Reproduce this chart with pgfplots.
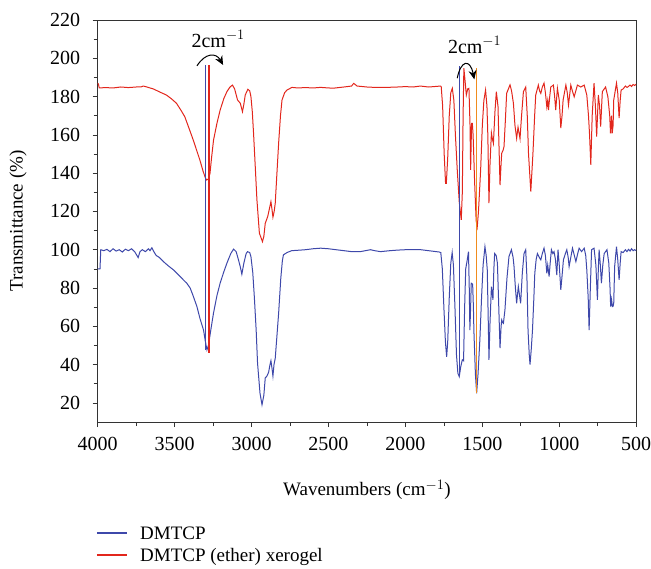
\documentclass[border=0pt]{standalone}
\usepackage{fontspec}
\setmainfont{Liberation Serif}
\usepackage{pgfplots}
\pgfplotsset{compat=1.18}
\usetikzlibrary{arrows.meta}
\definecolor{cblue}{RGB}{62,72,170}
\definecolor{cred}{RGB}{226,38,28}
\definecolor{corange}{RGB}{240,140,30}
\begin{document}
\begin{tikzpicture}
\begin{axis}[
  scale only axis,
  width=538.5pt, height=402pt,
  x dir=reverse,
  xmin=500, xmax=4000, ymin=10, ymax=220,
  xtick={500,1000,...,4000},
  ytick={20,40,...,220},
  minor x tick num=1, minor y tick num=1,
  xtick pos=bottom, ytick pos=left,
  tick align=outside,
  major tick length=5pt, minor tick length=4pt,
  axis line style={black!80, line width=0.8pt},
  every tick/.style={black!80, line width=0.7pt},
  /pgf/number format/assume math mode=true,
  /pgf/number format/1000 sep={},
  tick label style={font=\fontsize{20}{23}\selectfont},
  yticklabel style={xshift=-9pt},
  xticklabel style={yshift=-7pt},
  label style={font=\fontsize{19}{22}\selectfont},
  xlabel={Wavenumbers (cm$^{-1}$)},
  ylabel={Transmittance (\%)},
  xlabel style={at={(axis description cs:0.5,-0.169)}, anchor=center},
  ylabel style={at={(axis description cs:-0.148,0.5)}, anchor=center},
]
\addplot[cblue, line width=1pt] coordinates {
(4000,90) (3990,90) (3985,90) (3980,100) (3960,99.5) (3940,100.2) (3920,99) (3900,100.5) (3880,99.3) (3860,100) (3840,98.8) (3820,100.3) (3800,99.5) (3780,100.5) (3760,99) (3745,97) (3737,95.9) (3725,99) (3710,100) (3690,99) (3670,100.5) (3660,99.5) (3648,101) (3635,99) (3620,97) (3600,96) (3573,93.8) (3540,91.5) (3508,89.5) (3470,86.5) (3440,84) (3421,82.5) (3399,80) (3380,76) (3355,70.3) (3335,64) (3312,58) (3300,52) (3290,47.7) (3280,50) (3265,58) (3247,67) (3225,76) (3204,82.6) (3180,88.5) (3160,93) (3135,98) (3117,100.3) (3100,99) (3085,94.7) (3073,91) (3063,87.2) (3050,93) (3035,98) (3026,99) (3012,98.5) (3004,96.4) (2992,88) (2982,75.5) (2970,58) (2961,40.7) (2945,25) (2932,19) (2920,24) (2911,33) (2900,34) (2889,36) (2880,40) (2874,42) (2867,38) (2861,34) (2854,40) (2846,43.3) (2835,55) (2824,66.8) (2810,85) (2800,94) (2793,97.3) (2770,98.5) (2739,99.5) (2700,99.7) (2650,100) (2600,100.5) (2551,100.8) (2500,100.5) (2450,100) (2400,99.5) (2350,99) (2292,99) (2260,99.5) (2227,100) (2200,99.5) (2162,99) (2100,99.5) (2050,99.8) (2000,100) (1950,100) (1900,100) (1850,99.5) (1800,99) (1780,98.8) (1770,98.5) (1760,90) (1750,70) (1740,52) (1732,44) (1725,52) (1715,75) (1705,93) (1696,98.5) (1688,92) (1678,70) (1668,45) (1659,35.5) (1650,33.7) (1640,39) (1630,42.5) (1622,42) (1615,70) (1608,90) (1598,94.7) (1590,99) (1585,80) (1581,58) (1576,70) (1572,82.5) (1563,82) (1558,70) (1555,58) (1545,35) (1537,25) (1528,35) (1516,53) (1505,75) (1495,92) (1483,101.6) (1475,97) (1468,89.5) (1462,65) (1457,42.5) (1450,62) (1441,80.7) (1436,78) (1431,73.8) (1425,90) (1420,98) (1410,97) (1402,93) (1395,75) (1385,48.6) (1378,60) (1374,63.3) (1368,62) (1363,61.6) (1353,68.6) (1340,85) (1327,96.4) (1311,100) (1300,96) (1294,91.2) (1285,80) (1277,72) (1271,77) (1266,80.7) (1258,76) (1251,72) (1240,88) (1229,98) (1218,100) (1210,85) (1203,58) (1195,45) (1190,40) (1182,48) (1174,58) (1165,75) (1159,87.7) (1150,95) (1142,98) (1130,96) (1120,94.7) (1110,98) (1099,100.8) (1090,97) (1081,87.7) (1075,92) (1066,86) (1058,94) (1051,100) (1042,98) (1034,99) (1025,95) (1016,86.8) (1008,100) (1000,92) (990,79) (980,88) (973,94.7) (960,98) (951,100) (942,96) (936,91.2) (925,96) (914,100.8) (902,97) (892,93.8) (880,98) (871,100.8) (855,99) (838,100.8) (828,97) (821,89.5) (812,75) (806,58) (798,80) (790,100) (774,100.8) (762,92) (752,73.8) (746,90) (741,100) (733,92) (726,82.5) (717,92) (708,98) (690,100) (678,93) (670,80) (666,70.3) (660,74) (655,70.3) (650,70.5) (646,72) (640,91.2) (628,101.6) (620,95) (611,84.2) (604,93) (598,99) (585,98.5) (570,100) (560,99) (550,100.2) (540,99.3) (530,100.5) (520,99.5) (510,100) (500,99.5)
};
\addplot[cred, line width=1pt] coordinates {
(4000,187) (3995,186.5) (3990,184.5) (3950,184.7) (3900,184.5) (3850,185) (3800,184.7) (3750,185) (3720,185) (3703,185.5) (3680,185) (3660,184.5) (3638,184) (3600,182.5) (3553,180.8) (3520,178.8) (3488,176.5) (3460,173) (3434,169.5) (3400,162) (3379,157.3) (3355,151.5) (3336,146.9) (3315,141) (3300,137.5) (3292,136.4) (3280,137) (3270,139.9) (3260,148) (3247,157.3) (3225,166) (3204,173) (3180,179) (3160,182.6) (3140,185) (3124,186) (3110,184) (3091,178.2) (3073,176.5) (3059,172.1) (3050,176) (3041,180.8) (3024,183.8) (3012,183) (3004,180) (2995,172) (2987,160.8) (2975,142) (2965,126) (2949,108.6) (2929,104.2) (2920,107) (2911,113.8) (2895,117.3) (2885,121) (2874,125.1) (2867,121) (2861,117) (2853,120) (2846,124.3) (2835,140) (2824,155.6) (2812,170) (2802,178.2) (2785,182) (2770,183.4) (2737,184.8) (2700,184.5) (2650,184.7) (2600,184.5) (2551,184.8) (2500,184.5) (2466,184.4) (2400,185) (2350,185.5) (2336,186.9) (2314,185.5) (2250,185) (2200,184.8) (2120,184.8) (2050,185) (2000,185.2) (1950,185) (1902,185.5) (1850,185) (1800,185.3) (1771,185.5) (1767,185) (1758,175) (1748,150) (1739,134.7) (1734,134.7) (1725,148) (1715,170) (1705,182) (1695,184.3) (1685,178) (1675,160) (1663,141.7) (1650,125) (1637,115.6) (1630,130) (1625,170) (1620,194.8) (1612,188) (1604,180.8) (1595,184) (1587,184.3) (1580,165) (1576,141.7) (1570,166) (1565,166) (1560,160) (1550,135) (1540,115) (1533,112) (1525,120) (1511,141.7) (1500,165) (1490,178) (1479,183.4) (1470,175) (1464,159.1) (1457,124.3) (1450,145) (1441,161) (1435,158) (1428,155.6) (1418,172) (1409,182.6) (1398,174.7) (1392,155) (1385,133.8) (1378,145) (1374,150.4) (1365,152) (1359,153.9) (1350,168) (1342,181.7) (1320,186.1) (1310,183) (1298,176.5) (1288,165) (1277,158.2) (1268,164) (1255,158) (1245,170) (1233,182.6) (1218,185) (1208,170) (1200,150.4) (1185,130.3) (1171,150.4) (1160,170) (1153,180.8) (1136,186) (1128,183) (1120,181.7) (1110,185) (1099,187) (1090,182) (1081,174.7) (1075,178) (1070,173) (1062,180) (1055,185) (1038,186) (1030,180) (1023,173) (1012,184.3) (1000,178) (990,163.5) (982,170) (975,178.2) (957,186) (948,182) (940,175.6) (925,186) (915,183) (903,179.9) (882,186) (860,185) (838,186) (821,180.8) (810,170) (803,160) (795,144.3) (786,170) (774,187) (765,175) (757,159.1) (746,180.8) (738,175) (731,164.3) (720,182.6) (699,185) (684,179.9) (672,170) (667,160.8) (660,170) (656,160.8) (650,165) (646,178.2) (628,187) (620,182) (611,168.8) (604,178) (598,183.4) (585,184) (570,185.5) (560,184.8) (555,185) (540,186) (530,185.3) (520,186.3) (510,185.8) (500,186.5)
};
\addplot[cblue, line width=1.2pt] coordinates {(3297,196.5) (3297,47.7)};
\addplot[cred, line width=1.2pt] coordinates {(3276,196.5) (3276,46.3)};
\addplot[cblue, line width=1.2pt] coordinates {(1646,195.8) (1646,34)};
\addplot[corange, line width=1.2pt] coordinates {(1540,194.8) (1540,25.2)};
\draw[-{Stealth[length=9pt,width=8pt]}, line width=1pt] (axis cs:3355,196) .. controls (axis cs:3300,203) and (axis cs:3230,203) .. (axis cs:3185,196.5);
\draw[-{Stealth[length=9pt,width=8pt]}, line width=1pt] (axis cs:1663,189.6) .. controls (axis cs:1640,199) and (axis cs:1580,200) .. (axis cs:1552,189);
\node[font=\fontsize{20}{23}\selectfont, anchor=base] at (axis cs:3217,205.8) {2cm$^{-1}$};
\node[font=\fontsize{20}{23}\selectfont, anchor=base] at (axis cs:1550,202.7) {2cm$^{-1}$};
\end{axis}
\draw[cblue, line width=1.2pt] (-0.7pt,-111pt) -- (29.3pt,-111pt);
\node[anchor=base west, inner sep=0pt, font=\fontsize{19}{22}\selectfont] at (42.3pt,-117.3pt) {DMTCP};
\draw[cred, line width=1.2pt] (-0.7pt,-133pt) -- (29.3pt,-133pt);
\node[anchor=base west, inner sep=0pt, font=\fontsize{19}{22}\selectfont] at (42.3pt,-139.3pt) {DMTCP (ether) xerogel};
\pgfresetboundingbox
\path (-97.7pt,-146pt) rectangle (553.3pt,422pt);
\end{tikzpicture}
\end{document}
